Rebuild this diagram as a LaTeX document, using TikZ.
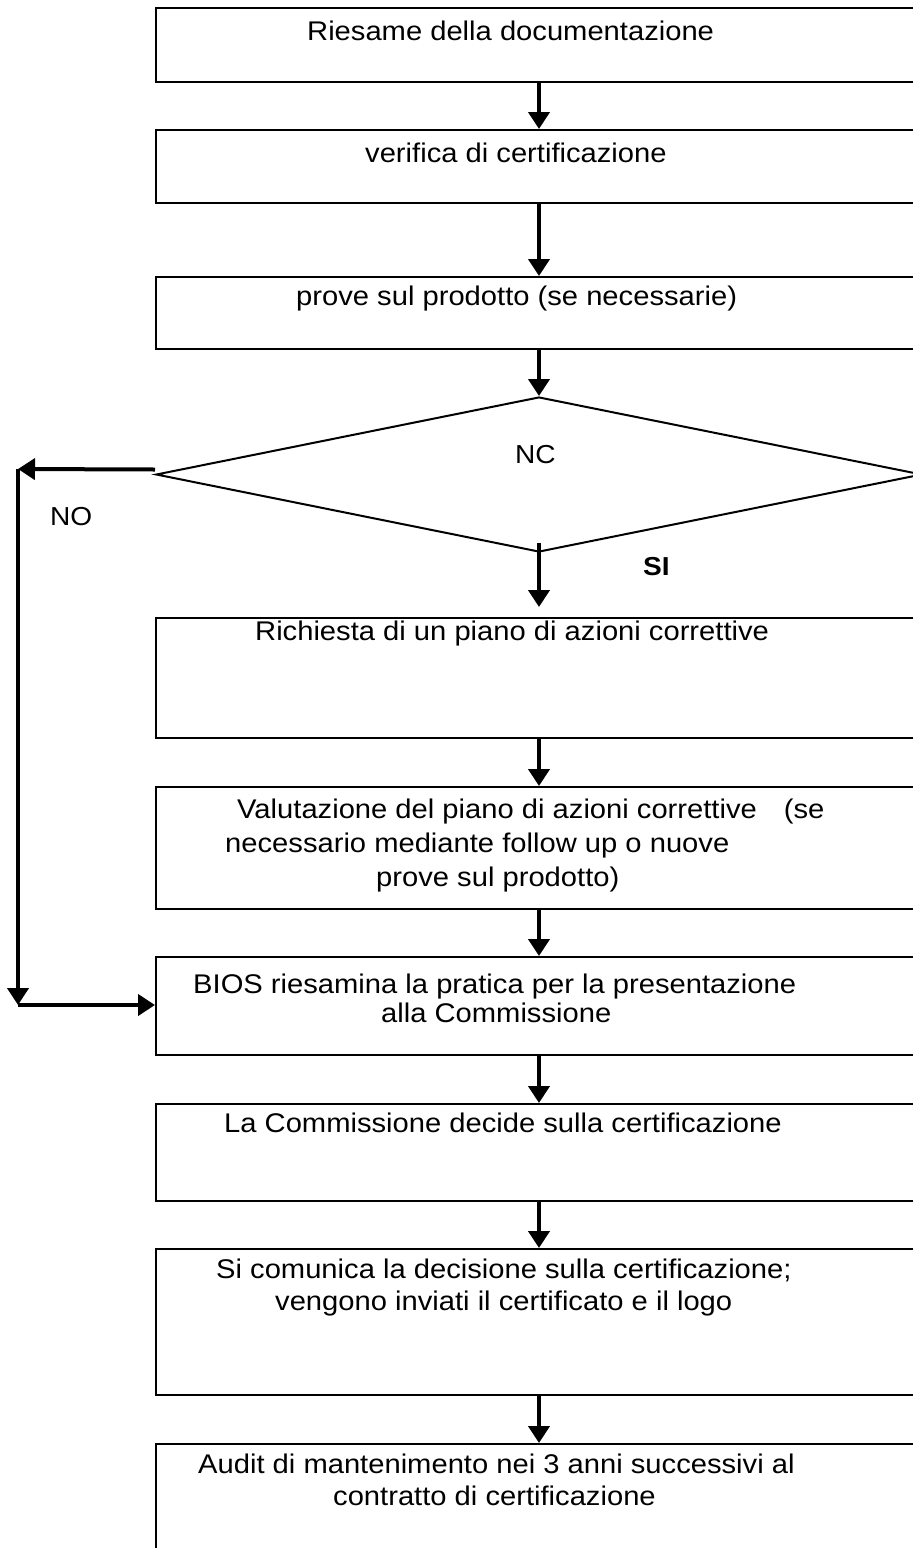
\documentclass[tikz,border=0pt]{standalone}
\usepackage{fontspec}
\setmainfont{Liberation Sans}
\newfontfamily\boxfont[FakeStretch=1.08]{Liberation Sans}
\usetikzlibrary{arrows.meta,shapes.geometric}
\begin{document}
\begin{tikzpicture}[x=1pt,y=-1pt,
  box/.style={draw, line width=2pt, anchor=north west, inner sep=0pt, minimum width=758pt},
  txt/.style={anchor=base west, inner sep=0pt, font=\boxfont\fontsize{27}{32}\selectfont},
  lbl/.style={anchor=base west, inner sep=0pt, font=\boxfont\fontsize{26}{31}\selectfont},
  arr/.style={line width=4pt, -{Triangle[width=21pt,length=17pt]}}
]
\useasboundingbox (0,0) rectangle (913,1548);
\fill[white] (0,0) rectangle (913,1548);
% boxes
\node[box, minimum height=74pt]  (b1) at (155,7) {};
\node[box, minimum height=73pt]  (b2) at (155,129) {};
\node[box, minimum height=72pt]  (b3) at (155,276) {};
\node[draw, diamond, line width=2pt, minimum width=766pt, minimum height=155pt, inner sep=0pt] (dia) at (539,474.5) {};
\node[box, minimum height=120pt] (b4) at (155,617) {};
\node[box, minimum height=122pt] (b5) at (155,786) {};
\node[box, minimum height=98pt]  (b6) at (155,956) {};
\node[box, minimum height=97pt]  (b7) at (155,1103) {};
\node[box, minimum height=146pt] (b8) at (155,1248) {};
\node[box, minimum height=140pt] (b9) at (155,1443) {};
% texts
\node[txt] (t1) at (307,40) {Riesame della documentazione};
\node[txt] (t2) at (365,162) {verifica di certificazione};
\node[txt] (t3) at (296,305) {prove sul prodotto (se necessarie)};
\node[lbl] (nc) at (515,463) {NC};
\node[lbl] (no) at (50,525) {NO};
\node[lbl, font=\boxfont\fontsize{26}{31}\selectfont\bfseries] (si) at (643,575) {SI};
\node[txt] (t4) at (255,640) {Richiesta di un piano di azioni correttive};
\node[txt] (t5a) at (237,818) {Valutazione del piano di azioni correttive\hspace*{1em}(se};
\node[txt] (t5b) at (225,852) {necessario mediante follow up o nuove};
\node[txt] (t5c) at (376,886) {prove sul prodotto)};
\node[txt] (t6a) at (193,993) {BIOS riesamina la pratica per la presentazione};
\node[txt] (t6b) at (381,1022) {alla Commissione};
\node[txt] (t7) at (224,1132) {La Commissione decide sulla certificazione};
\node[txt] (t8a) at (216,1278) {Si comunica la decisione sulla certificazione;};
\node[txt] (t8b) at (275,1310) {vengono inviati il certificato e il logo};
\node[txt] (t9a) at (198,1473) {Audit di mantenimento nei 3 anni successivi al};
\node[txt] (t9b) at (333,1505) {contratto di certificazione};
% connectors
\coordinate (ax) at (539,0);
\coordinate (c1) at (18,469);
\coordinate (c2) at (18,1005);
\draw[arr] (b1.south -| ax) -- (b2.north -| ax);
\draw[arr] (b2.south -| ax) -- (b3.north -| ax);
\draw[arr] (b3.south -| ax) -- (dia.north);
\draw[arr] ([yshift=10pt]dia.south) -- ([yshift=10pt]b4.north -| ax);
\draw[arr] (b4.south -| ax) -- (b5.north -| ax);
\draw[arr] (b5.south -| ax) -- (b6.north -| ax);
\draw[arr] (b6.south -| ax) -- (b7.north -| ax);
\draw[arr] (b7.south -| ax) -- (b8.north -| ax);
\draw[arr] (b8.south -| ax) -- (b9.north -| ax);
\draw[arr] ([yshift=5pt]dia.west) -- (c1);
\draw[arr] (c1) -- (c2);
\draw[arr] (c2) -- (c2 -| b6.west);
\end{tikzpicture}
\end{document}
